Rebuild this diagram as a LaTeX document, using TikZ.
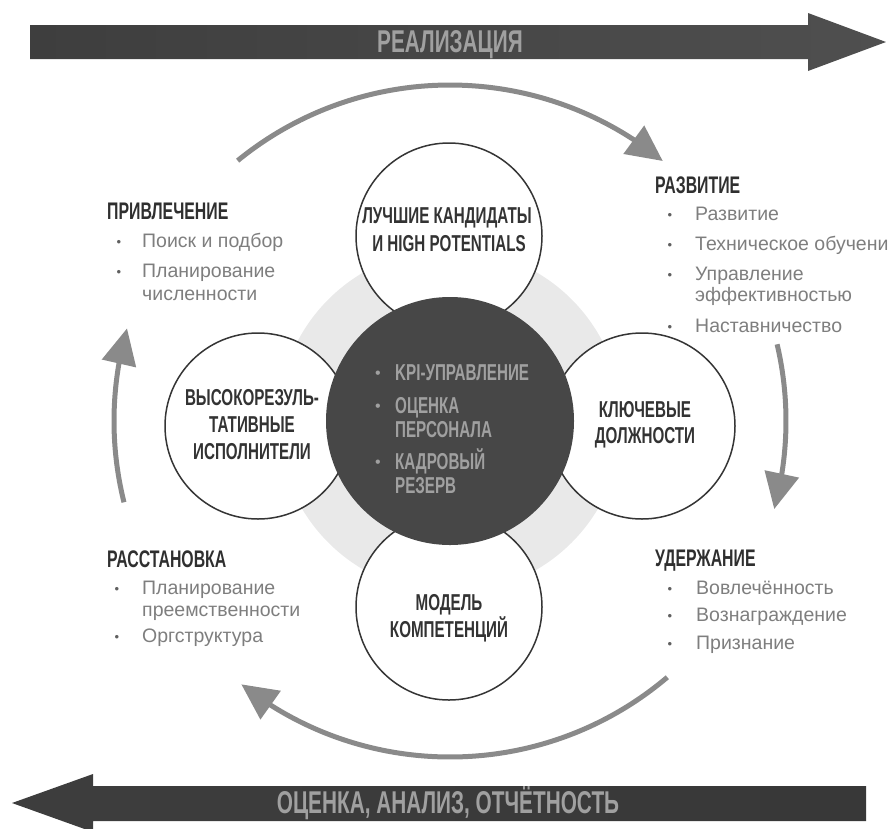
\documentclass[tikz,border=0pt]{standalone}
\usepackage{fontspec}
\setmainfont{Liberation Sans}
\newfontfamily\condf[FakeStretch=0.66]{Liberation Sans}
\usetikzlibrary{arrows.meta,bending}
\definecolor{discgray}{HTML}{E9E9E9}
\definecolor{darkc}{HTML}{474747}
\definecolor{ringline}{HTML}{353535}
\definecolor{circtext}{HTML}{333333}
\definecolor{lighttext}{HTML}{A0A0A0}
\definecolor{headtext}{HTML}{2F2F2F}
\definecolor{listtext}{HTML}{7E7E7E}
\definecolor{bulcol}{HTML}{606060}
\definecolor{cyccol}{HTML}{8A8A8A}
\definecolor{barL}{HTML}{3E3E3E}
\definecolor{barR}{HTML}{4F4F4F}
\tikzset{
  wcirc/.style={circle,draw=ringline,line width=1.5pt,fill=white,minimum size=186pt,inner sep=0pt},
  ctext/.style={font=\condf\bfseries\fontsize{23}{23}\selectfont,text=circtext,anchor=base,inner sep=0pt},
  dtext/.style={font=\condf\bfseries\fontsize{23}{23}\selectfont,text=lighttext,anchor=base west,inner sep=0pt},
  dbul/.style={font=\fontsize{16}{16}\selectfont,text=lighttext,anchor=base,inner sep=0pt},
  bartext/.style={font=\condf\bfseries\fontsize{31.5}{31.5}\selectfont,text=lighttext,anchor=base,inner sep=0pt},
  headt/.style={font=\condf\bfseries\fontsize{24}{24}\selectfont,text=headtext,anchor=base west,inner sep=0pt},
  litem/.style={font=\fontsize{19.5}{19.5}\selectfont,text=listtext,anchor=base west,inner sep=0pt},
  lbul/.style={font=\fontsize{13}{13}\selectfont,text=bulcol,anchor=base,inner sep=0pt},
  cyc/.style={draw=cyccol,line width=5pt,-{Triangle[length=36pt,width=34pt]}}
}
\begin{document}
\begin{tikzpicture}[x=1pt,y=-1pt]
\useasboundingbox (0,0) rectangle (888,828);
% big arrows
\shade[left color=barL,right color=barR] (30,25) -- (808,25) -- (808,13) -- (886,42) -- (808,71) -- (808,59) -- (30,59) -- cycle;
\node[bartext] (real) at (450,52) {РЕАЛИЗАЦИЯ};
\shade[left color=barR!110!white,right color=barL!90!black] (866,786) -- (93,786) -- (93,774) -- (12,803) -- (93,832) -- (93,821) -- (866,821) -- cycle;
\node[bartext] (eval) at (448,813) {ОЦЕНКА, АНАЛИЗ, ОТЧЁТНОСТЬ};
% centre
\coordinate (c) at (450,421);
\fill[discgray] (c) circle (172);
\node[wcirc] (ctop) at (449,236) {};
\node[wcirc] (cleft) at (258,426) {};
\node[wcirc] (cright) at (642,426) {};
\node[wcirc] (cbot) at (449,607) {};
\node[circle,fill=darkc,minimum size=248pt,inner sep=0pt] (core) at (c) {};
% circle texts
\node[ctext] (t1a) at (447,223) {ЛУЧШИЕ КАНДИДАТЫ};
\node[ctext] (t1b) at (449,251) {И HIGH POTENTIALS};
\node[ctext] (t2a) at (252,405) {ВЫСОКОРЕЗУЛЬ-};
\node[ctext] (t2b) at (252,432) {ТАТИВНЫЕ};
\node[ctext] (t2c) at (252,459) {ИСПОЛНИТЕЛИ};
\node[ctext] (t3a) at (645,417) {КЛЮЧЕВЫЕ};
\node[ctext] (t3b) at (645,443) {ДОЛЖНОСТИ};
\node[ctext] (t4a) at (449,610) {МОДЕЛЬ};
\node[ctext] (t4b) at (449,637) {КОМПЕТЕНЦИЙ};
% core texts
\node[dbul] (db1) at (378,378) {•};
\node[dtext] (d1) at (395,380) {KPI-УПРАВЛЕНИЕ};
\node[dbul] (db2) at (378,411) {•};
\node[dtext] (d2a) at (395,413) {ОЦЕНКА};
\node[dtext] (d2b) at (395,437) {ПЕРСОНАЛА};
\node[dbul] (db3) at (378,467) {•};
\node[dtext] (d3a) at (395,469) {КАДРОВЫЙ};
\node[dtext] (d3b) at (395,493) {РЕЗЕРВ};
% headings and lists
\node[headt] (hA) at (107,219) {ПРИВЛЕЧЕНИЕ};
\node[lbul] (bA1) at (119,246) {•};
\node[litem] (lA1) at (142,247) {Поиск и подбор};
\node[lbul] (bA2) at (119,276) {•};
\node[litem] (lA2) at (142,277) {Планирование};
\node[litem] (lA3) at (142,300) {численности};
\node[headt] (hB) at (655,193) {РАЗВИТИЕ};
\node[lbul] (bB1) at (670,219) {•};
\node[litem] (lB1) at (695,220) {Развитие};
\node[lbul] (bB2) at (670,249) {•};
\node[litem] (lB2) at (695,250) {Техническое обучение};
\node[lbul] (bB3) at (670,279) {•};
\node[litem] (lB3) at (695,280) {Управление};
\node[litem] (lB4) at (695,301) {эффективностью};
\node[lbul] (bB5) at (670,331) {•};
\node[litem] (lB5) at (695,332) {Наставничество};
\node[headt] (hC) at (107,567) {РАССТАНОВКА};
\node[lbul] (bC1) at (117,593) {•};
\node[litem] (lC1) at (142,594) {Планирование};
\node[litem] (lC2) at (142,616) {преемственности};
\node[lbul] (bC3) at (117,641) {•};
\node[litem] (lC3) at (142,642) {Оргструктура};
\node[headt] (hD) at (655,566) {УДЕРЖАНИЕ};
\node[lbul] (bD1) at (670,593) {•};
\node[litem] (lD1) at (696,594) {Вовлечённость};
\node[lbul] (bD2) at (670,620) {•};
\node[litem] (lD2) at (696,621) {Вознаграждение};
\node[lbul] (bD3) at (670,648) {•};
\node[litem] (lD3) at (696,649) {Признание};
% cycle arrows
\draw[cyc] ([shift={(-129.2:336)}]c) arc[start angle=-129.2,end angle=-50.7,radius=336];
\draw[cyc] ([shift={(-13.2:336)}]c) arc[start angle=-13.2,end angle=15.2,radius=336];
\draw[cyc] ([shift={(49.7:336)}]c) arc[start angle=49.7,end angle=128.4,radius=336];
\draw[cyc] ([shift={(166:336)}]c) arc[start angle=166,end angle=196,radius=336];
\end{tikzpicture}
\end{document}
